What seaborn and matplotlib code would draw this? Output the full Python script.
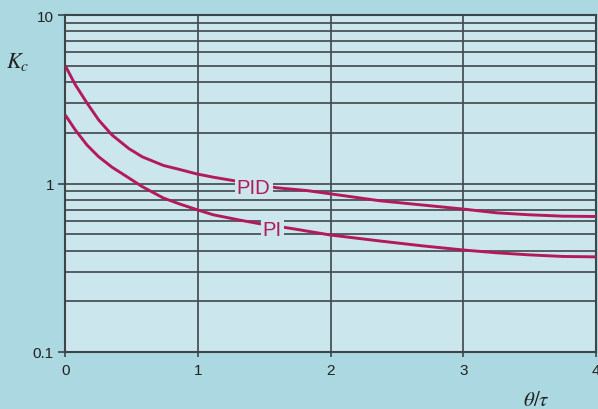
import numpy as np
import pandas as pd
import matplotlib
matplotlib.use("Agg")
import matplotlib.pyplot as plt
from matplotlib.ticker import FixedLocator, NullFormatter, FixedFormatter
import seaborn as sns

# ---- data ----
pid_x = [0.0, 0.035, 0.075, 0.164, 0.252, 0.352, 0.48, 0.58, 0.739, 0.864, 0.99,
         1.115, 1.236, 1.595, 1.82, 2.0, 2.37, 2.686, 3.0, 3.25, 3.5, 3.75, 4.0]
pid_y = [5.0, 4.43, 3.86, 3.0, 2.38, 1.94, 1.61, 1.44, 1.28, 1.21, 1.14,
         1.09, 1.05, 0.943, 0.908, 0.868, 0.79, 0.746, 0.705, 0.67, 0.652, 0.64, 0.637]
pi_x = [0.0, 0.075, 0.164, 0.252, 0.352, 0.478, 0.578, 0.739, 0.864, 0.99, 1.115,
        1.317, 1.45, 1.71, 1.995, 2.37, 2.686, 3.0, 3.25, 3.5, 3.75, 4.0]
pi_y = [2.55, 2.08, 1.69, 1.44, 1.25, 1.08, 0.96, 0.82, 0.755, 0.70, 0.652,
        0.606, 0.58, 0.54, 0.495, 0.456, 0.427, 0.403, 0.388, 0.377, 0.369, 0.367]
series_names = ["PID", "PI"]
label_pos = {"PID": (1.42, 0.95), "PI": (1.56, 0.53)}
x_ticks = [0, 1, 2, 3, 4]
y_major = [0.1, 1, 10]
y_major_labels = ["0.1", "1", "10"]
y_minor = [0.2, 0.3, 0.4, 0.5, 0.6, 0.7, 0.8, 0.9, 2, 3, 4, 5, 6, 7, 8, 9]

df = pd.concat([
    pd.DataFrame({"x": pid_x, "y": pid_y, "series": "PID"}),
    pd.DataFrame({"x": pi_x, "y": pi_y, "series": "PI"}),
])

# ---- style ----
outer_bg = "#abd8e1"
inner_bg = "#cce6ed"
curve = "#b21a5c"
grid_c = "#434d51"

sns.set_theme(style="white")
plt.rcParams["font.family"] = ["Liberation Sans", "DejaVu Sans"]
plt.rcParams["mathtext.fontset"] = "stix"

fig = plt.figure(figsize=(5.98, 4.10), dpi=100, facecolor=outer_bg)
ax = fig.add_axes([65.3 / 598, 57 / 410, (596 - 65.3) / 598, (353 - 16) / 410])
ax.set_facecolor(inner_bg)

sns.lineplot(data=df, x="x", y="y", hue="series", hue_order=series_names,
             palette={"PID": curve, "PI": curve}, linewidth=2.1, legend=False,
             ax=ax, zorder=3, sort=False)
for ln in ax.get_lines():
    ln.set_solid_joinstyle("round")
    ln.set_solid_capstyle("butt")

ax.set_yscale("log")
ax.set_xlim(0, 4)
ax.set_ylim(0.1, 10)
ax.xaxis.set_major_locator(FixedLocator(x_ticks))
ax.set_xticklabels([str(t) for t in x_ticks])
ax.yaxis.set_major_locator(FixedLocator(y_major))
ax.yaxis.set_major_formatter(FixedFormatter(y_major_labels))
ax.yaxis.set_minor_locator(FixedLocator(y_minor))
ax.yaxis.set_minor_formatter(NullFormatter())

ax.grid(True, which="both", axis="y", color=grid_c, linewidth=1.25, zorder=1)
ax.grid(True, which="major", axis="x", color=grid_c, linewidth=1.25, zorder=1)
ax.set_axisbelow(True)

for s in ax.spines.values():
    s.set_color("#3c4548")
    s.set_linewidth(1.5)

ax.tick_params(axis="y", which="major", length=5, width=1.2, color="#3c4548",
               pad=3.2, labelsize=11, labelcolor="#222222", left=True)
ax.tick_params(axis="y", which="minor", length=0)
ax.tick_params(axis="x", which="major", length=3.6, width=1.2, color="#3c4548",
               pad=4.0, labelsize=11, labelcolor="#222222", bottom=True)
ax.set_xlabel("")
ax.set_ylabel("")

for name in series_names:
    lx, ly = label_pos[name]
    ax.text(lx, ly, name, fontsize=14.6, color=curve, ha="center", va="center",
            zorder=5,
            bbox=dict(boxstyle="square,pad=0.1", fc=inner_bg, ec="none"))

fig.text(18 / 598, 1 - 62 / 410, r"$K_c$", fontsize=16, color="#222222",
         ha="center", va="center")
fig.text(536 / 598, 1 - 401 / 410, r"$\theta/\tau$", fontsize=15, color="#222222",
         ha="center", va="center")

fig.savefig("out.png", dpi=100, facecolor=outer_bg)
